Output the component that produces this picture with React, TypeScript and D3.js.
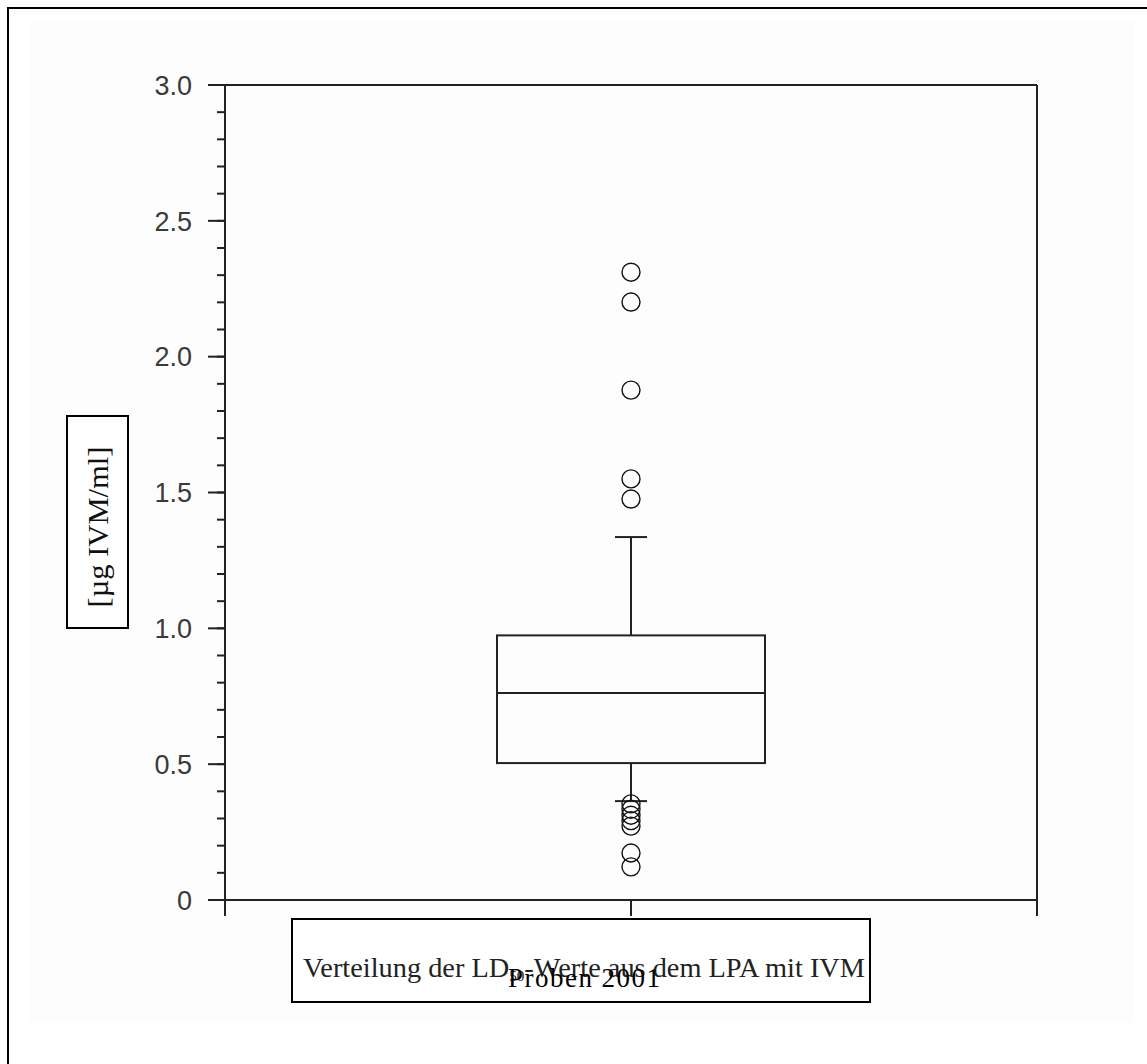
import React from 'react';
import * as d3 from 'd3';

const width = 1147;
const height = 1064;
const plot = { left: 225, right: 1037, top: 85, bottom: 900 };

// box summary
const category = 'Proben 2001';
const boxStats = { q1: 0.504, median: 0.762, q3: 0.974, whiskerLow: 0.364, whiskerHigh: 1.336 };
const outliers = [2.311, 2.201, 1.877, 1.55, 1.476, 0.354, 0.334, 0.312, 0.292, 0.272, 0.173, 0.122];
const yMajorTicks = [0, 0.5, 1.0, 1.5, 2.0, 2.5, 3.0];
const yMinorTicks = d3.range(0, 31).map((i) => i / 10);

const stroke = '#222';

function App() {
  const y = d3.scaleLinear().domain([0, 3]).range([plot.bottom, plot.top]);
  const x = d3.scaleLinear().domain([0, 2]).range([plot.left, plot.right]);
  const cx = x(1);
  const boxHalf = 134;
  const capHalf = 16;
  const fmt = (v: number) => (v === 0 ? '0' : d3.format('.1f')(v));

  return (
    <svg
      width={width}
      height={height}
      style={{ position: 'absolute', left: 0, top: 0, background: '#fff' }}
    >
      <rect x={30} y={20} width={1104} height={1002} fill="#fdfdfd" />
      <path d={`M8,${height + 5}V8H${width + 5}`} fill="none" stroke="#000" strokeWidth={2} />

      {/* frame lines */}
      <line x1={plot.left - 17} x2={plot.right} y1={plot.top} y2={plot.top} stroke={stroke} strokeWidth={2} />
      <line x1={plot.right} x2={plot.right} y1={plot.top} y2={plot.bottom} stroke={stroke} strokeWidth={2} />
      <line x1={plot.left - 17} x2={plot.right} y1={plot.bottom} y2={plot.bottom} stroke={stroke} strokeWidth={2} />
      <line x1={plot.left} x2={plot.left} y1={plot.top} y2={plot.bottom} stroke={stroke} strokeWidth={2} />

      {/* y ticks */}
      {yMinorTicks.map((t) => (
        <line key={'m' + t} x1={plot.left - 8} x2={plot.left} y1={y(t)} y2={y(t)} stroke={stroke} strokeWidth={2} />
      ))}
      {yMajorTicks.map((t) => (
        <g key={t}>
          <line x1={plot.left - 17} x2={plot.left} y1={y(t)} y2={y(t)} stroke={stroke} strokeWidth={2} />
          <text
            x={192}
            y={y(t)}
            dy="0.36em"
            textAnchor="end"
            fontFamily="Liberation Sans, Arial, sans-serif"
            fontSize={27}
            fill="#3a3a3a"
          >
            {fmt(t)}
          </text>
        </g>
      ))}

      {/* x ticks */}
      {[0, 1, 2].map((t) => (
        <line key={t} x1={x(t)} x2={x(t)} y1={plot.bottom} y2={plot.bottom + 16} stroke={stroke} strokeWidth={2} />
      ))}

      {/* box */}
      <line x1={cx} x2={cx} y1={y(boxStats.q3)} y2={y(boxStats.whiskerHigh)} stroke={stroke} strokeWidth={2} />
      <line x1={cx - capHalf} x2={cx + capHalf} y1={y(boxStats.whiskerHigh)} y2={y(boxStats.whiskerHigh)} stroke={stroke} strokeWidth={2} />
      <line x1={cx} x2={cx} y1={y(boxStats.q1)} y2={y(boxStats.whiskerLow)} stroke={stroke} strokeWidth={2} />
      <line x1={cx - capHalf} x2={cx + capHalf} y1={y(boxStats.whiskerLow)} y2={y(boxStats.whiskerLow)} stroke={stroke} strokeWidth={2} />
      <rect
        x={cx - boxHalf}
        y={y(boxStats.q3)}
        width={boxHalf * 2}
        height={y(boxStats.q1) - y(boxStats.q3)}
        fill="none"
        stroke={stroke}
        strokeWidth={2}
      />
      <line x1={cx - boxHalf} x2={cx + boxHalf} y1={y(boxStats.median)} y2={y(boxStats.median)} stroke={stroke} strokeWidth={2} />

      {outliers.map((v, i) => (
        <circle key={i} cx={cx} cy={y(v)} r={9} fill="none" stroke="#111" strokeWidth={1.4} />
      ))}

      {/* y label */}
      <rect x={67} y={416} width={61} height={212} fill="#fff" stroke="#000" strokeWidth={2} />
      <text
        transform={`translate(108, 527) rotate(-90)`}
        textAnchor="middle"
        fontFamily="Liberation Serif, Times New Roman, serif"
        fontSize={29}
        fill="#111"
        textLength={161}
        lengthAdjust="spacingAndGlyphs"
      >
        [µg IVM/ml]
      </text>

      {/* x label */}
      <rect x={292} y={919} width={578} height={83} fill="#fff" stroke="#000" strokeWidth={2} />
      <text
        x={303}
        y={977}
        fontFamily="Liberation Serif, Times New Roman, serif"
        fontSize={28}
        fill="#222"
        textLength={562}
        lengthAdjust="spacingAndGlyphs"
      >
        Verteilung der LD<tspan fontSize={15} dy={4}>50</tspan>
        <tspan dy={-4}>-Werte aus dem LPA mit IVM</tspan>
      </text>
      <text
        x={508}
        y={987}
        fontFamily="Liberation Serif, Times New Roman, serif"
        fontSize={27}
        fill="#000"
        textLength={152}
        lengthAdjust="spacing"
      >
        {category}
      </text>
    </svg>
  );
}

export default App;
